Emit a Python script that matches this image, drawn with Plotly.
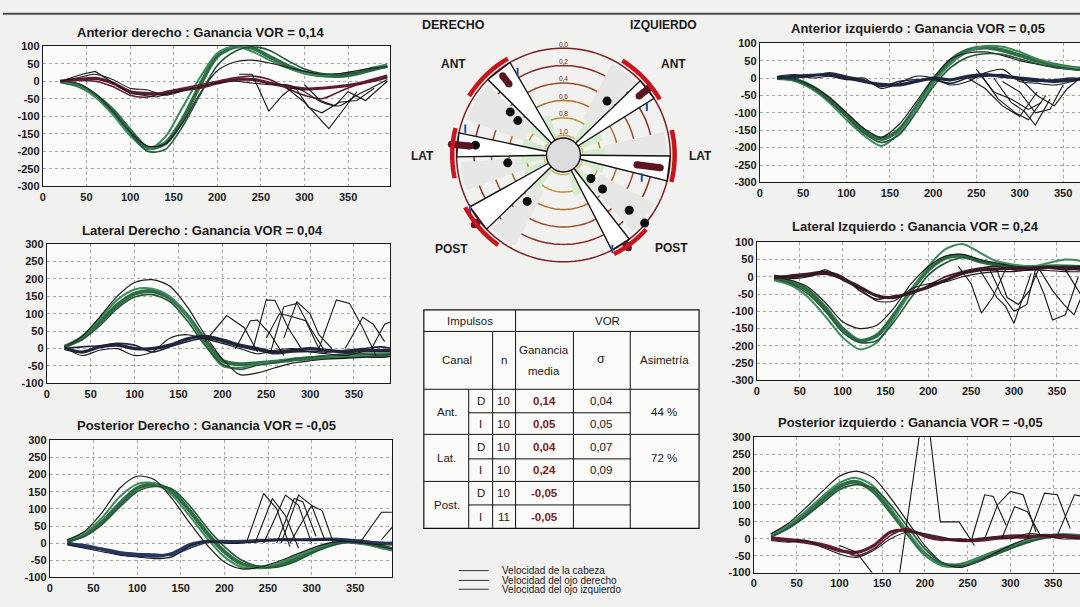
import numpy as np
import plotly.graph_objects as go

W, H = 1080, 607
FONT = "Liberation Sans, Arial, sans-serif"

# ---------------- data ----------------
X = [20, 40, 60, 80, 100, 120, 140, 160, 180, 200, 220, 240, 260, 280, 300, 320, 340, 360, 380, 395]
X_TICKS = [0, 50, 100, 150, 200, 250, 300, 350]
Y_TICKS_HIGH = [100, 50, 0, -50, -100, -150, -200, -250, -300]
Y_TICKS_LOW = [300, 250, 200, 150, 100, 50, 0, -50, -100]

titles = [
    "Anterior derecho : Ganancia VOR = 0,14",
    "Lateral Derecho : Ganancia VOR = 0,04",
    "Posterior Derecho : Ganancia VOR = -0,05",
    "Anterior izquierdo : Ganancia VOR = 0,05",
    "Lateral Izquierdo : Ganancia VOR = 0,24",
    "Posterior izquierdo : Ganancia VOR = -0,05",
]

# Anterior derecho
head_ant_d = [
    [0, -12, -40, -82, -140, -190, -178, -110, -12, 72, 98, 95, 70, 45, 25, 17, 15, 22, 35, 45],
    [0, -10, -45, -95, -155, -195, -160, -75, 10, 80, 100, 85, 60, 38, 22, 18, 20, 28, 40, 48],
    [0, -6, -35, -85, -145, -185, -180, -120, -35, 30, 55, 60, 52, 40, 28, 20, 22, 30, 38, 42],
    [0, -8, -38, -88, -148, -200, -195, -130, -40, 45, 85, 98, 88, 60, 35, 22, 18, 25, 35, 40],
]
eye_ant_d = [
    [0, 5, 8, -5, -30, -35, -35, -25, -18, -5, 5, 5, -5, -15, -22, -20, -15, -8, 5, 15],
    [0, 2, 0, -15, -40, -45, -30, -20, -10, 0, 10, 15, 5, -20, -40, -50, -30, -10, 0, 10],
    [0, 10, 20, 5, -20, -25, -40, -28, -15, -5, 0, -5, -10, -10, -30, -60, -70, -40, -15, 5],
]
sacc_ant_d = [
    ([20, 45, 60, 75, 100, 130, 160], [0, 20, 28, 5, -35, -45, -25]),
    ([225, 240, 259, 275, 285, 300], [20, 20, -85, -40, -20, -25]),
    ([280, 300, 315, 328, 345, 360], [-20, -60, -100, -135, -80, -30]),
    ([290, 305, 320, 340, 360, 380], [-20, -75, -90, -60, -55, -20]),
    ([300, 318, 335, 350, 370, 395], [-10, -55, -70, -30, -55, 0]),
]

# Lateral derecho
head_lat_d = [
    [5, 30, 75, 125, 158, 165, 145, 95, 25, -35, -45, -42, -38, -32, -28, -25, -22, -20, -20, -18],
    [5, 35, 85, 140, 170, 172, 150, 95, 15, -50, -55, -45, -38, -30, -25, -22, -20, -18, -15, -15],
    [5, 35, 90, 150, 190, 198, 180, 120, 40, -30, -75, -70, -55, -42, -35, -30, -28, -25, -25, -22],
    [5, 25, 65, 115, 148, 155, 135, 80, 10, -45, -60, -48, -40, -30, -25, -20, -15, -15, -18, -15],
]
eye_lat_d = [
    [0, -10, 5, 10, 0, 0, 10, 28, 35, 25, 10, 0, -10, -5, 0, -5, -10, -5, -5, -5],
    [0, 5, 8, 15, 10, -10, 5, 20, 30, 20, 5, -5, -15, -10, -8, -10, -5, 0, 5, 0],
    [5, -20, -5, 0, -20, -10, 30, 40, 28, 15, 0, -15, -5, 0, -10, -15, -20, -10, -10, -10],
]
sacc_lat_d = [
    ([180, 205, 225, 240], [20, 95, 60, -10]),
    ([215, 232, 240, 255, 270], [0, 80, 82, 40, -20]),
    ([235, 250, 260, 275, 290], [0, 140, 138, 60, 0]),
    ([255, 270, 285, 300, 315], [-10, 120, 130, 60, 0]),
    ([270, 285, 300, 310, 325], [30, 135, 100, 40, 0]),
    ([310, 330, 345, 360, 375], [0, 140, 130, 60, -20]),
    ([340, 360, 372, 385], [0, 90, 70, 20]),
    ([370, 385, 395], [0, 70, 80]),
    ([250, 265, 275, 295, 310], [30, 100, 95, 80, 0]),
]

# Posterior derecho
head_post_d = [
    [5, 25, 62, 115, 160, 172, 150, 95, 30, -25, -60, -70, -65, -48, -25, -5, 5, 0, -10, -20],
    [5, 30, 75, 135, 172, 175, 140, 80, 15, -40, -70, -72, -60, -40, -20, 0, 5, -2, -15, -22],
    [10, 35, 90, 160, 195, 185, 130, 60, -5, -55, -75, -70, -55, -35, -15, 0, 5, 0, -10, -18],
    [5, 20, 55, 105, 150, 165, 158, 110, 45, -10, -50, -68, -70, -55, -30, -10, 2, 0, -8, -15],
]
eye_post_d = [
    [0, -10, -18, -30, -35, -38, -30, -5, 5, 5, 5, 8, 10, 10, 10, 12, 10, 5, 0, 0],
    [0, -5, -15, -25, -30, -32, -35, -15, 2, 3, 3, 5, 8, 10, 12, 10, 8, 5, 2, 0],
    [-5, -15, -25, -35, -40, -45, -40, -10, 5, 0, 0, 5, 10, 10, 8, 10, 5, 0, -5, -5],
]
sacc_post_d = [
    ([225, 245, 260, 275], [0, 145, 100, -10]),
    ([235, 255, 270, 285], [0, 130, 80, -15]),
    ([245, 270, 285, 300], [0, 140, 110, 0]),
    ([265, 285, 300, 315], [0, 140, 110, 10]),
    ([275, 300, 312, 325], [0, 110, 95, 0]),
    ([260, 280, 290, 305], [0, 130, 120, 20]),
    ([355, 380, 395], [0, 90, 90]),
    ([380, 395], [10, 55]),
]

# Anterior izquierdo
head_ant_i = [
    [0, -5, -25, -60, -105, -150, -175, -150, -85, -10, 50, 80, 88, 80, 65, 50, 38, 30, 25, 22],
    [0, -8, -32, -70, -120, -165, -195, -160, -90, -15, 40, 75, 92, 90, 75, 55, 40, 30, 25, 20],
    [0, -4, -22, -55, -100, -145, -170, -135, -70, 0, 55, 72, 75, 65, 50, 40, 30, 25, 22, 20],
    [0, -6, -28, -65, -112, -158, -185, -165, -100, -25, 30, 60, 70, 68, 55, 42, 32, 25, 20, 18],
]
eye_ant_i = [
    [0, 5, 8, 10, 0, -10, -18, -20, -10, 0, -5, 5, 10, 5, 0, -5, -10, -5, 0, 0],
    [0, 0, 5, 15, 5, -5, -25, -10, -5, -5, -15, 0, 5, 10, -5, -10, -5, 0, -5, 0],
    [5, 10, 0, 5, -5, 0, -30, -15, 5, 0, -20, -10, 15, 25, -10, -15, -20, -10, 0, -5],
]
sacc_ant_i = [
    ([240, 260, 280, 300, 320], [0, -30, -80, -110, -40]),
    ([255, 275, 295, 310, 330], [10, -60, -100, -120, -50]),
    ([270, 290, 305, 318, 335], [0, -70, -95, -135, -60]),
    ([280, 300, 318, 335, 350], [-10, -40, -100, -90, -20]),
    ([300, 320, 340, 355, 370], [0, -50, -80, -30, 0]),
    ([250, 270, 290, 310, 325], [25, -40, -60, -90, -70]),
]

# Lateral izquierdo
head_lat_i = [
    [-5, -15, -40, -90, -150, -185, -170, -110, -40, 20, 55, 60, 45, 35, 30, 28, 30, 30, 28, 25],
    [-10, -25, -60, -115, -175, -210, -190, -120, -40, 30, 80, 95, 70, 45, 35, 30, 40, 50, 45, 35],
    [0, -10, -30, -75, -130, -150, -140, -90, -20, 30, 60, 65, 50, 40, 30, 25, 28, 30, 30, 28],
    [-5, -20, -50, -100, -160, -190, -185, -130, -60, 5, 40, 55, 45, 35, 28, 25, 25, 28, 25, 22],
]
eye_lat_i = [
    [0, 0, 5, 10, -5, -30, -55, -60, -45, -30, -10, 10, 20, 22, 25, 25, 28, 25, 22, 20],
    [-5, 5, 10, 15, 0, -40, -65, -55, -50, -25, 0, 15, 25, 30, 20, 20, 25, 20, 25, 25],
    [5, -5, 0, 20, -10, -35, -70, -70, -35, -20, -15, 0, 10, 15, 15, 20, 18, 15, 15, 20],
]
sacc_lat_i = [
    ([235, 250, 262, 275, 290], [30, -20, -105, -60, 20]),
    ([260, 280, 290, 300, 320], [20, -60, -85, -135, 10]),
    ([270, 285, 300, 315, 325], [30, -50, -100, -80, 20]),
    ([325, 335, 345, 360, 375], [10, -50, -125, -110, 0]),
    ([330, 345, 358, 370, 385], [20, -40, -80, -110, -20]),
    ([280, 292, 305, 318, 330], [20, -60, -80, -40, 30]),
    ([360, 375, 385, 395], [20, -40, -80, -60]),
]

# Posterior izquierdo
head_post_i = [
    [10, 35, 70, 115, 155, 168, 140, 80, 15, -45, -75, -78, -62, -42, -25, -8, 5, 10, 8, 2],
    [10, 40, 80, 125, 165, 180, 155, 90, 20, -45, -80, -80, -60, -40, -20, -5, 8, 12, 8, 5],
    [15, 45, 90, 140, 185, 200, 180, 120, 50, -20, -70, -85, -70, -45, -20, 0, 10, 12, 8, 0],
    [5, 30, 65, 105, 145, 160, 150, 100, 35, -30, -70, -80, -70, -50, -30, -10, 2, 8, 5, 0],
]
eye_post_i = [
    [0, -5, -10, -20, -35, -40, -20, 20, 25, 10, 0, -5, -5, 0, 5, 5, 10, 8, 5, 5],
    [5, 0, -5, -15, -30, -50, -30, 10, 30, 5, -5, 0, -5, 5, 10, 10, 5, 5, 0, 0],
    [-5, -10, -5, -25, -45, -55, -35, 0, 20, 15, 5, -5, 0, 5, 0, 15, 10, 0, 0, 0],
]
sacc_post_i = [
    ([160, 170, 195, 205, 218, 240, 258], [-200, -110, 330, 330, 50, 50, -20]),
    ([100, 120, 138, 150], [-20, -40, -100, -150]),
    ([255, 270, 280, 295], [0, 130, 125, 40]),
    ([270, 285, 300, 315, 330], [0, 100, 140, 130, 20]),
    ([290, 305, 320, 335], [0, 95, 80, 10]),
    ([320, 340, 355, 370], [0, 135, 130, 30]),
    ([355, 375, 395], [10, 130, 120]),
]

heads = [head_ant_d, head_lat_d, head_post_d, head_ant_i, head_lat_i, head_post_i]
eyes = [eye_ant_d, eye_lat_d, eye_post_d, eye_ant_i, eye_lat_i, eye_post_i]
saccs = [sacc_ant_d, sacc_lat_d, sacc_post_d, sacc_ant_i, sacc_lat_i, sacc_post_i]

# polar diagram data
ring_gains = [0.0, 0.2, 0.4, 0.6, 0.8, 1.0]
ring_labels = ["0,0", "0,2", "0,4", "0,6", "0,8", "1,0"]
canal_spans = [(120, 135), (168, 181), (209, 224), (32, 44), (346, 359.5), (297, 308)]
normal_spans = [(137, 160), (184, 200), (226, 242), (45, 62), (0, 13), (312, 332)]
red_arc_spans = [(120, 148), (166, 192), (208, 234), (30, 58), (-14, 13), (-63, -42)]
canal_angles = [127.5, 174.5, 218, 38, 352.5, 305]
canal_gain = [0.14, 0.04, -0.05, 0.05, 0.24, -0.05]
canal_sigma = [0.04, 0.07, 0.015, 0.05, 0.09, 0.015]
dot_theta = [141, 143, 173.6, 188, 232, 51, 319.4, 319, 320, 320]
dot_gain = [0.44, 0.57, 0.21, 0.58, 0.55, 0.43, 0.81, 0.63, 0.24, 0.01]
blue_theta = [119, 165, 210, 30, 344, 297.5]
blue_gain = [0.14, 0.06, -0.01, 0.12, 0.29, 0.01]

# table data
tbl_canal = ["Ant.", "Lat.", "Post."]
tbl_side = ["D", "I", "D", "I", "D", "I"]
tbl_n = ["10", "10", "10", "10", "10", "11"]
tbl_gain = ["0,14", "0,05", "0,04", "0,24", "-0,05", "-0,05"]
tbl_sigma = ["0,04", "0,05", "0,07", "0,09", "", ""]
tbl_asim = ["44 %", "72 %", ""]
legend_labels = ["Velocidad de la cabeza", "Velocidad del ojo derecho", "Velocidad del ojo izquierdo"]

# ---------------- layout helpers ----------------
def fx(p):
    return p / W


def fy(p):
    return 1 - p / H


PANELS = [
    dict(x0=40, x1=388, y0=41, y1=184, xr=[0, 398], yt=Y_TICKS_HIGH, tx=198, ty=27, full=True),
    dict(x0=44, x1=388, y0=243, y1=385, xr=[0, 391], yt=Y_TICKS_LOW, tx=200, ty=229, full=True),
    dict(x0=47, x1=390, y0=443, y1=583, xr=[0, 392], yt=Y_TICKS_LOW, tx=204, ty=428, full=True),
    dict(x0=759, x1=1080, y0=38, y1=180, xr=[0, 369.5], yt=Y_TICKS_HIGH, tx=918, ty=23, full=False),
    dict(x0=756, x1=1080, y0=241, y1=382, xr=[0, 377], yt=Y_TICKS_HIGH, tx=915, ty=225, full=False),
    dict(x0=753, x1=1080, y0=440, y1=578, xr=[0, 381.5], yt=Y_TICKS_LOW, tx=910, ty=425, full=False),
]
EYE_COLORS = ["#5E1C2C", "#22263C", "#27365F", "#1F2842", "#3C1A24", "#5E1C2C"]
HEAD_STYLE = [("#2F6E45", 4.0), ("#3F8A5C", 2.0), ("#1A1A1A", 1.2), ("#24573A", 1.6)]

fig = go.Figure()
layout = {}
annotations = []
shapes = []

for i, pn in enumerate(PANELS):
    k = "" if i == 0 else str(i + 1)
    xa, ya = "x" + k, "y" + k
    for j, ys in enumerate(heads[i]):
        c, w = HEAD_STYLE[j % len(HEAD_STYLE)]
        fig.add_trace(go.Scatter(x=X, y=ys, mode="lines", xaxis=xa, yaxis=ya,
                                 line=dict(color=c, width=w, shape="spline", smoothing=0.8),
                                 hoverinfo="skip"))
    for j, ys in enumerate(eyes[i]):
        c = EYE_COLORS[i] if j < 2 else "#1A1A1A"
        w = [3.2, 1.6, 1.1][j % 3]
        fig.add_trace(go.Scatter(x=X, y=ys, mode="lines", xaxis=xa, yaxis=ya,
                                 line=dict(color=c, width=w, shape="spline", smoothing=0.8),
                                 hoverinfo="skip"))
    for sx, sy in saccs[i]:
        fig.add_trace(go.Scatter(x=sx, y=sy, mode="lines", xaxis=xa, yaxis=ya,
                                 line=dict(color="#161616", width=1.1), hoverinfo="skip"))
    yt = pn["yt"]
    layout["xaxis" + k] = dict(
        domain=[fx(pn["x0"]), fx(pn["x1"])], anchor=ya, range=pn["xr"],
        tickvals=X_TICKS, ticktext=[str(v) for v in X_TICKS],
        showgrid=True, gridcolor="#A8A8A8", griddash="dot", gridwidth=1,
        zeroline=False, showline=True, linecolor="#1A1A1A", linewidth=1.2, mirror=True,
        ticks="", tickfont=dict(family=FONT, size=11, color="#1A1A1A", weight="bold"),
    )
    layout["yaxis" + k] = dict(
        domain=[fy(pn["y1"]), fy(pn["y0"])], anchor=xa, range=[min(yt), max(yt)],
        tickvals=yt, ticktext=[str(v) for v in yt],
        showgrid=True, gridcolor="#A8A8A8", griddash="dot", gridwidth=1,
        zeroline=False, showline=True, linecolor="#1A1A1A", linewidth=1.2, mirror=pn["full"],
        ticks="", tickfont=dict(family=FONT, size=11, color="#1A1A1A", weight="bold"),
    )
    annotations.append(dict(x=fx(pn["tx"]), y=fy(pn["ty"]), xref="paper", yref="paper",
                            text="<b>" + titles[i] + "</b>", showarrow=False,
                            font=dict(family=FONT, size=13, color="#1A1A1A"),
                            xanchor="center", yanchor="middle"))

# ---------------- polar diagram ----------------
def g2r(g):
    return 20 + (1 - g) * 89


RING_COLORS = ["#7A1E22", "#8A2A22", "#9B4A26", "#B0702E", "#C49236", "#C9B04A"]
R_EDGE = g2r(0.0)

for g, c in zip(ring_gains, RING_COLORS):
    th = np.arange(0, 362, 2)
    fig.add_trace(go.Scatterpolar(r=[g2r(g)] * len(th), theta=th, mode="lines",
                                  line=dict(color=c, width=1.5), hoverinfo="skip"))

for a1, a2 in normal_spans:
    th = np.linspace(a1, a2, 8)
    r_in = g2r(0.75)
    fig.add_trace(go.Scatterpolar(r=[r_in] * len(th) + [R_EDGE - 4] * len(th),
                                  theta=list(th) + list(th[::-1]),
                                  mode="lines", fill="toself", fillcolor="#E7E7E6",
                                  line=dict(width=0, color="#E7E7E6"), hoverinfo="skip"))

for a1, a2 in canal_spans:
    m = (a1 + a2) / 2
    th = np.linspace(m - 18, m + 18, 12)
    fig.add_trace(go.Scatterpolar(r=[g2r(1.0)] * len(th) + [g2r(0.74)] * len(th),
                                  theta=list(th) + list(th[::-1]),
                                  mode="lines", fill="toself", fillcolor="#D6ECCE",
                                  line=dict(width=0, color="#D6ECCE"), hoverinfo="skip"))

for a1, a2 in canal_spans:
    m = (a1 + a2) / 2
    fig.add_trace(go.Scatterpolar(r=[0, R_EDGE, R_EDGE, 0], theta=[m, a1, a2, m],
                                  mode="lines", fill="toself", fillcolor="#FFFFFF",
                                  line=dict(color="#111111", width=1.4), hoverinfo="skip"))

fig.add_trace(go.Scatterpolar(r=[0], theta=[0], mode="markers",
                              marker=dict(size=34, color="#DCDCDC", line=dict(color="#111111", width=1.4)),
                              hoverinfo="skip"))

fig.add_trace(go.Scatterpolar(r=[g2r(g) for g in dot_gain], theta=dot_theta, mode="markers",
                              marker=dict(size=9, color="#0D0D0D"), hoverinfo="skip"))

for th, g, s in zip(canal_angles, canal_gain, canal_sigma):
    rr = [g2r(g + 1.5 * s), g2r(g - 1.5 * s)]
    fig.add_trace(go.Scatterpolar(r=rr, theta=[th, th], mode="lines+markers",
                                  line=dict(color="#5E1320", width=7),
                                  marker=dict(size=7, color="#5E1320"), hoverinfo="skip"))

fig.add_trace(go.Scatterpolar(r=[g2r(g) for g in blue_gain], theta=blue_theta, mode="markers",
                              marker=dict(size=6, symbol="line-ns-open", color="#2A4BA0",
                                          line=dict(color="#2A4BA0", width=2)),
                              hoverinfo="skip"))

for a1, a2 in red_arc_spans:
    th = np.linspace(a1, a2, 20)
    fig.add_trace(go.Scatterpolar(r=[g2r(-0.05)] * len(th), theta=th, mode="lines",
                                  line=dict(color="#C8141C", width=4.5), hoverinfo="skip"))

fig.add_trace(go.Scatterpolar(r=[g2r(g) for g in ring_gains], theta=[90] * len(ring_gains),
                              mode="text", text=ring_labels, textposition="top center",
                              textfont=dict(family=FONT, size=6.5, color="#6A1C1C"),
                              hoverinfo="skip"))

layout["polar"] = dict(
    domain=dict(x=[fx(444), fx(680)], y=[fy(270), fy(34)]),
    bgcolor="rgba(0,0,0,0)",
    radialaxis=dict(range=[0, 118], visible=False),
    angularaxis=dict(visible=False, rotation=0, direction="counterclockwise"),
)

def label(x, y, text, size=12, bold=True, color="#1A1A1A", xanchor="center"):
    annotations.append(dict(x=fx(x), y=fy(y), xref="paper", yref="paper",
                            text=("<b>%s</b>" % text) if bold else text, showarrow=False,
                            font=dict(family=FONT, size=size, color=color),
                            xanchor=xanchor, yanchor="middle"))

label(452, 19, "DERECHO", 12.5)
label(662, 19, "IZQUIERDO", 12)
for (x, y, t) in [(452, 59, "ANT"), (672, 59, "ANT"), (421, 153, "LAT"), (699, 153, "LAT"),
                  (450, 248, "POST"), (670, 247, "POST")]:
    label(x, y, t)

# ---------------- table ----------------
def line(x0, y0, x1, y1, color="#111111", width=1):
    shapes.append(dict(type="line", xref="paper", yref="paper", x0=fx(x0), y0=fy(y0),
                       x1=fx(x1), y1=fy(y1), line=dict(color=color, width=width)))

shapes.append(dict(type="rect", xref="paper", yref="paper", x0=fx(422), y0=fy(533), x1=fx(698), y1=fy(310),
                   line=dict(color="#111111", width=1.2), fillcolor="#FAFAF8", layer="below"))
for y in [332, 391, 437, 485]:
    line(422, y, 698, y)
for y in [415, 462, 509]:
    line(467, y, 629, y)
line(467, 391, 467, 533)
line(491, 332, 491, 533)
line(514, 310, 514, 533)
line(572, 332, 572, 533)
line(629, 332, 629, 533)

TS = 11.5
label(468, 321, "Impulsos", TS, False)
label(606, 321, "VOR", TS, False)
label(455, 361, "Canal", TS, False)
label(502, 361, "n", TS, False)
label(543, 351, "Ganancia", TS, False)
label(543, 372, "media", TS, False)
label(600, 360, "σ", TS + 1, False)
label(663, 361, "Asimetría", TS, False)
row_y = [403, 426, 450, 473, 497, 521]
group_y = [414, 461, 509]
for k in range(3):
    label(445, group_y[k], tbl_canal[k], TS, False)
    if tbl_asim[k]:
        label(663, group_y[k], tbl_asim[k], TS, False)
for r in range(6):
    label(479, row_y[r], tbl_side[r], TS, False)
    label(502, row_y[r], tbl_n[r], TS, False)
    label(543, row_y[r], tbl_gain[r], TS, True, "#7A1A22")
    if tbl_sigma[r]:
        label(600, row_y[r], tbl_sigma[r], TS, False)

# legend
for y, t in zip([576, 586, 595], legend_labels):
    line(457, y, 487, y, "#333333", 1)
    label(498, y, t, 10, False, "#222222", "left")

# top border of the photographed page
line(0, 8, 1080, 8, "#4A4A4A", 2)

fig.update_layout(
    width=W, height=H, margin=dict(l=0, r=0, t=0, b=0),
    paper_bgcolor="#F1F1EF", plot_bgcolor="#FBFBFA",
    showlegend=False, annotations=annotations, shapes=shapes,
    font=dict(family=FONT, color="#1A1A1A"),
    **layout,
)

fig.write_html("out.html", config={"displayModeBar": False},
               post_script="document.body.style.margin='0px';")
